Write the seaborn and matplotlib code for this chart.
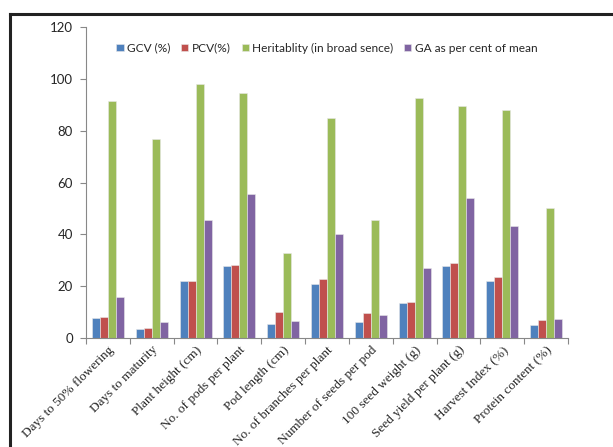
import matplotlib
matplotlib.use("Agg")
import matplotlib.pyplot as plt
from matplotlib.lines import Line2D
from matplotlib.ticker import FixedLocator, NullFormatter
import seaborn as sns
import pandas as pd

traits = [
    "Days to 50% flowering", "Days to maturity", "Plant height (cm)",
    "No. of pods per plant", "Pod length (cm)", "No. of branches per plant",
    "Number of seeds per pod", "100 seed weight (g)", "Seed yield per plant (g)",
    "Harvest Index (%)", "Protein content (%)",
]
series = ["GCV (%)", "PCV(%)", "Heritablity (in broad sence)", "GA as per cent of mean"]

gcv = [8.0, 3.5, 22.0, 27.7, 5.6, 21.0, 6.4, 13.5, 27.7, 22.2, 5.0]
pcv = [8.3, 3.8, 22.0, 28.3, 10.0, 23.0, 9.6, 14.0, 29.1, 23.6, 7.2]
heritability = [91.2, 76.7, 98.1, 94.5, 32.7, 85.0, 45.4, 92.7, 89.5, 88.0, 50.0]
ga_mean = [15.9, 6.3, 45.6, 55.6, 6.8, 40.3, 9.0, 27.0, 54.1, 43.2, 7.6]

yticks = [0, 20, 40, 60, 80, 100, 120]
colors = ["#4F81BD", "#C0504D", "#9BBB59", "#8064A2"]

rows = []
for name, vals in zip(series, [gcv, pcv, heritability, ga_mean]):
    for t, v in zip(traits, vals):
        rows.append({"trait": t, "series": name, "value": v})
df = pd.DataFrame(rows)

sns.set_style("white")
plt.rcParams["font.family"] = ["Lato", "DejaVu Sans"]

fig = plt.figure(figsize=(6.13, 4.47), dpi=100)
ax = fig.add_axes([86 / 613, 1 - 338.3 / 447, (568 - 86) / 613, (338.3 - 26.7) / 447])

sns.barplot(
    data=df, x="trait", y="value", hue="series", order=traits, hue_order=series,
    palette=colors, width=0.73, saturation=1, ax=ax,
    edgecolor="#e8e8e8", linewidth=0.4,
)

ax.set_xlim(-0.5, len(traits) - 0.5)
ax.set_ylim(0, 120)
ax.set_yticks(yticks)
ax.set_yticklabels([str(v) for v in yticks], fontsize=9.5)
ax.set_xlabel("")
ax.set_ylabel("")

# category labels at centres, tick marks at group boundaries
ax.set_xticks(range(len(traits)))
ax.set_xticklabels(traits, rotation=45, ha="right", rotation_mode="anchor",
                   family=["Liberation Serif"], fontsize=9.5)
ax.tick_params(axis="x", which="major", length=0, pad=4)
ax.xaxis.set_minor_locator(FixedLocator([i - 0.5 for i in range(len(traits) + 1)]))
ax.xaxis.set_minor_formatter(NullFormatter())
ax.tick_params(axis="x", which="minor", bottom=True, length=4, color="#888888", width=0.8)
ax.tick_params(axis="y", left=True, length=4, color="#888888", width=0.8, pad=5.5)

for side in ["top", "right"]:
    ax.spines[side].set_visible(False)
for side in ["left", "bottom"]:
    ax.spines[side].set_color("#888888")
    ax.spines[side].set_linewidth(0.8)

leg = ax.legend(
    loc="center", bbox_to_anchor=(0.5, 1 - (48 - 26.7) / (338.3 - 26.7)), ncol=4,
    frameon=False, fontsize=8.6, handlelength=0.6, handleheight=0.6,
    handletextpad=0.3, columnspacing=0.9,
)

# page frame around the chart
fig.add_artist(Line2D([9.5 / 613, 9.5 / 613], [0, 1 - 13.5 / 447],
                      transform=fig.transFigure, color="#222222", linewidth=2.2,
                      solid_capstyle="projecting"))
fig.add_artist(Line2D([9.5 / 613, 1], [1 - 13.5 / 447, 1 - 13.5 / 447],
                      transform=fig.transFigure, color="#222222", linewidth=2.2,
                      solid_capstyle="projecting"))

fig.savefig("out.png", dpi=100)
